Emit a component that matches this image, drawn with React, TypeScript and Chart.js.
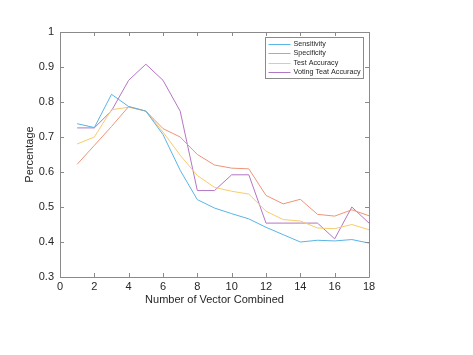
import React, { useEffect, useRef } from "react";
import { Chart, registerables } from "chart.js";

Chart.register(...registerables);

const combos = [1, 2, 3, 4, 5, 6, 7, 8, 9, 10, 11, 12, 13, 14, 15, 16, 17, 18];
const sensitivity = [0.738, 0.727, 0.822, 0.787, 0.774, 0.707, 0.605, 0.521, 0.497, 0.481, 0.466, 0.442, 0.421, 0.4, 0.405, 0.403, 0.407, 0.397];
const specificity = [0.622, 0.676, 0.73, 0.787, 0.774, 0.724, 0.7, 0.65, 0.62, 0.611, 0.609, 0.533, 0.509, 0.522, 0.479, 0.474, 0.492, 0.475];
const testAccuracy = [0.68, 0.7, 0.778, 0.785, 0.774, 0.714, 0.648, 0.59, 0.556, 0.545, 0.537, 0.488, 0.464, 0.46, 0.44, 0.438, 0.45, 0.435];
const votingAccuracy = [0.726, 0.726, 0.775, 0.862, 0.908, 0.862, 0.774, 0.547, 0.547, 0.592, 0.592, 0.454, 0.454, 0.454, 0.454, 0.409, 0.5, 0.454];
const seriesNames = ["Sensitivity", "Specificity", "Test Accuracy", "Voting Teat Accuracy"];
const seriesColors = ["#5AB4E6", "#EE9478", "#F7CB6B", "#B376C4"];
const xTitle = "Number of Vector Combined";
const yTitle = "Percentage";

const FONT = "'Liberation Sans', Arial, Helvetica, sans-serif";

const decorPlugin = {
  id: "decor",
  afterDraw(chart: any) {
    const { ctx, chartArea: a, scales } = chart;
    const xs = scales.x;
    const ys = scales.y;
    ctx.save();
    // box
    ctx.strokeStyle = "#8a8a8a";
    ctx.lineWidth = 1;
    ctx.beginPath();
    ctx.rect(Math.round(a.left) + 0.5, Math.round(a.top) + 0.5, Math.round(a.right - a.left), Math.round(a.bottom - a.top));
    ctx.stroke();
    // inward ticks
    const tl = 4;
    ctx.beginPath();
    xs.ticks.forEach((t: any) => {
      const px = Math.round(xs.getPixelForValue(t.value)) + 0.5;
      ctx.moveTo(px, a.bottom);
      ctx.lineTo(px, a.bottom - tl);
      ctx.moveTo(px, a.top);
      ctx.lineTo(px, a.top + tl);
    });
    ys.ticks.forEach((t: any) => {
      const py = Math.round(ys.getPixelForValue(t.value)) + 0.5;
      ctx.moveTo(a.left, py);
      ctx.lineTo(a.left + tl, py);
      ctx.moveTo(a.right, py);
      ctx.lineTo(a.right - tl, py);
    });
    ctx.stroke();

    // axis titles
    ctx.fillStyle = "#262626";
    ctx.font = "11px " + FONT;
    ctx.textAlign = "center";
    ctx.textBaseline = "middle";
    ctx.fillText(xTitle, (a.left + a.right) / 2, 300);
    ctx.save();
    ctx.translate(30, (a.top + a.bottom) / 2);
    ctx.rotate(-Math.PI / 2);
    ctx.fillText(yTitle, 0, 0);
    ctx.restore();

    // legend
    const bx = 265.5, by = 37.5, bw = 98, bh = 41;
    ctx.fillStyle = "#ffffff";
    ctx.fillRect(bx, by, bw, bh);
    ctx.strokeStyle = "#8a8a8a";
    ctx.strokeRect(bx, by, bw, bh);
    ctx.font = "7.2px " + FONT;
    ctx.textAlign = "left";
    ctx.textBaseline = "middle";
    seriesNames.forEach((name, i) => {
      const yy = 44 + i * 9.4;
      ctx.strokeStyle = seriesColors[i];
      ctx.beginPath();
      ctx.moveTo(268.5, Math.round(yy) + 0.5);
      ctx.lineTo(290.5, Math.round(yy) + 0.5);
      ctx.stroke();
      ctx.fillStyle = "#262626";
      ctx.fillText(name, 293.5, yy);
    });
    ctx.restore();
  },
};

export default function App() {
  const ref = useRef<HTMLCanvasElement>(null);
  useEffect(() => {
    document.body.style.margin = "0";
    const seriesValues = [sensitivity, specificity, testAccuracy, votingAccuracy];
    const chart = new Chart(ref.current as HTMLCanvasElement, {
      type: "line",
      data: {
        datasets: seriesNames.map((name, i) => ({
          label: name,
          data: combos.map((c, j) => ({ x: c, y: seriesValues[i][j] })),
          borderColor: seriesColors[i],
          backgroundColor: seriesColors[i],
          borderWidth: 1,
          pointRadius: 0,
          tension: 0,
          fill: false,
        })),
      },
      options: {
        animation: false,
        responsive: false,
        devicePixelRatio: 1,
        layout: { padding: { left: 0, right: 104, top: 32, bottom: 0 } },
        plugins: { legend: { display: false }, tooltip: { enabled: false } },
        scales: {
          x: {
            type: "linear",
            min: 0,
            max: 18,
            grid: { display: false, drawTicks: false, tickLength: 0 },
            border: { display: false },
            ticks: { stepSize: 2, color: "#262626", font: { family: FONT, size: 11 }, padding: 3, maxRotation: 0 },
            afterFit: (s: any) => { s.height = 78; },
          },
          y: {
            type: "linear",
            min: 0.3,
            max: 1,
            grid: { display: false, drawTicks: false, tickLength: 0 },
            border: { display: false },
            ticks: {
              stepSize: 0.1,
              color: "#262626",
              font: { family: FONT, size: 11 },
              padding: 6,
              callback: (v: any) => String(Number(Number(v).toFixed(1))),
            },
            afterFit: (s: any) => { s.width = 60; },
          },
        },
      },
      plugins: [decorPlugin],
    } as any);
    return () => chart.destroy();
  }, []);
  return (
    <div style={{ position: "absolute", left: 0, top: 0, width: 473, height: 355 }}>
      <canvas ref={ref} width={473} height={355} />
    </div>
  );
}
